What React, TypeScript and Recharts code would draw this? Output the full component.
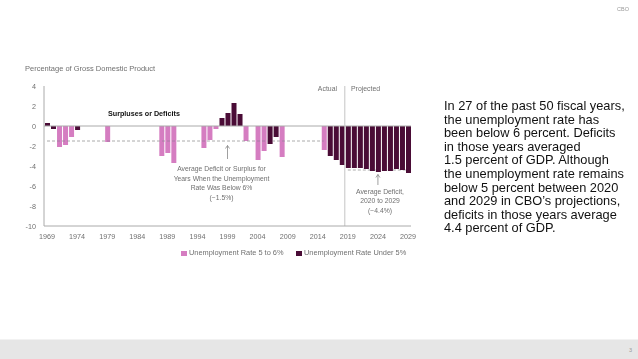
import React from "react";
import {
  ComposedChart,
  Bar,
  Line,
  XAxis,
  YAxis,
  ReferenceLine,
} from "recharts";

const years = [
  1969, 1970, 1971, 1972, 1973, 1974, 1975, 1976, 1977, 1978,
  1979, 1980, 1981, 1982, 1983, 1984, 1985, 1986, 1987, 1988,
  1989, 1990, 1991, 1992, 1993, 1994, 1995, 1996, 1997, 1998,
  1999, 2000, 2001, 2002, 2003, 2004, 2005, 2006, 2007, 2008,
  2009, 2010, 2011, 2012, 2013, 2014, 2015, 2016, 2017, 2018,
  2019, 2020, 2021, 2022, 2023, 2024, 2025, 2026, 2027, 2028,
  2029,
];

// Unemployment rate 5 to 6% (pink)
const rate5to6 = [
  null, null, -2.1, -1.9, -1.1, null, null, null, null, null,
  -1.6, null, null, null, null, null, null, null, null, -3.0,
  -2.7, -3.7, null, null, null, null, -2.2, -1.4, -0.3, null,
  null, null, null, -1.5, null, -3.4, -2.5, null, null, -3.1,
  null, null, null, null, null, null, -2.4, null, null, null,
  null, null, null, null, null, null, null, null, null, null,
  null,
];

// Unemployment rate under 5% (dark)
const rateUnder5 = [
  0.3, -0.3, null, null, null, -0.4, null, null, null, null,
  null, null, null, null, null, null, null, null, null, null,
  null, null, null, null, null, null, null, null, null, 0.8,
  1.3, 2.3, 1.2, null, null, null, null, -1.8, -1.1, null,
  null, null, null, null, null, null, null, -3.0, -3.4, -3.9,
  -4.2, -4.2, -4.2, -4.3, -4.5, -4.6, -4.5, -4.5, -4.3, -4.4,
  -4.7,
];

const xTicks = [1969, 1974, 1979, 1984, 1989, 1994, 1999, 2004, 2009, 2014, 2019, 2024, 2029];
const yTicks = [-10, -8, -6, -4, -2, 0, 2, 4];

// averages and the year spans they cover
const pastAverage = -1.5;
const pastAverageSpan = [1969, 2015];
const projectedAverage = -4.4;
const projectedAverageSpan = [2019, 2029];

const data = years.map((y, i) => ({
  year: y,
  pink: rate5to6[i],
  dark: rateUnder5[i],
  avgPast: y >= pastAverageSpan[0] && y <= pastAverageSpan[1] ? pastAverage : null,
  avgProj: y >= projectedAverageSpan[0] && y <= projectedAverageSpan[1] ? projectedAverage : null,
}));

const PINK = "#d57dc1";
const DARK = "#4a0c36";
const SANS = "'Liberation Sans', Arial, sans-serif";
const GRAY_TEXT = "#707070";
const X_DOMAIN: [number, number] = [1968.5, 2029.5];
const Y_DOMAIN: [number, number] = [-10, 4];

const Arrow = (p: any) => {
  const { x1, y1, x2, y2 } = p;
  const tipX = x2;
  const tipY = Math.min(y1, y2);
  const baseY = Math.max(y1, y2);
  return (
    <g>
      <line x1={tipX} y1={baseY} x2={tipX} y2={tipY} stroke="#888" strokeWidth={0.8} />
      <path d={`M${tipX - 2},${tipY + 3} L${tipX},${tipY} L${tipX + 2},${tipY + 3}`} fill="none" stroke="#888" strokeWidth={0.8} />
    </g>
  );
};

const txt = (
  left: number,
  centerY: number,
  text: React.ReactNode,
  style: React.CSSProperties = {}
) => (
  <div
    style={{
      position: "absolute",
      left,
      top: centerY - 6,
      height: 12,
      lineHeight: "12px",
      whiteSpace: "nowrap",
      fontFamily: SANS,
      ...style,
    }}
  >
    {text}
  </div>
);

const centered = (cx: number, centerY: number, text: string, size = 6.8) => (
  <div
    style={{
      position: "absolute",
      left: cx - 80,
      width: 160,
      top: centerY - 6,
      height: 12,
      lineHeight: "12px",
      textAlign: "center",
      whiteSpace: "nowrap",
      fontFamily: SANS,
      fontSize: size,
      color: GRAY_TEXT,
    }}
  >
    {text}
  </div>
);

export default function App() {
  return (
    <div
      style={{
        position: "absolute",
        left: 0,
        top: 0,
        width: 638,
        height: 359,
        background: "#ffffff",
        overflow: "hidden",
      }}
    >
      <style>{`.avg-line path { mix-blend-mode: darken; }`}</style>
      <div style={{ position: "absolute", left: 0, top: 0 }}>
        <ComposedChart
          width={420}
          height={270}
          data={data}
          margin={{ top: 86, right: 9, left: 0, bottom: 24 }}
        >
          <XAxis
            dataKey="year"
            type="number"
            domain={X_DOMAIN}
            ticks={xTicks}
            interval={0}
            height={20}
            axisLine={{ stroke: "#aaaaaa" }}
            tickLine={false}
            tick={{ fontSize: 7.2, fill: GRAY_TEXT, fontFamily: SANS }}
          />
          <YAxis
            type="number"
            domain={Y_DOMAIN}
            ticks={yTicks}
            interval={0}
            width={44}
            axisLine={{ stroke: "#aaaaaa" }}
            tickLine={false}
            tick={{ fontSize: 7.2, fill: GRAY_TEXT, fontFamily: SANS }}
          />
          <Bar dataKey="pink" stackId="a" fill={PINK} barSize={5} isAnimationActive={false} />
          <Bar dataKey="dark" stackId="a" fill={DARK} barSize={5} isAnimationActive={false} />
          <Line
            className="avg-line"
            dataKey="avgPast"
            stroke="#a0a0a0"
            strokeDasharray="3 2"
            strokeWidth={0.9}
            dot={false}
            activeDot={false}
            isAnimationActive={false}
          />
          <Line
            className="avg-line"
            dataKey="avgProj"
            stroke="#a0a0a0"
            strokeDasharray="3 2"
            strokeWidth={0.9}
            dot={false}
            activeDot={false}
            isAnimationActive={false}
          />
          <ReferenceLine y={0} stroke="#aaaaaa" strokeWidth={1} />
          <ReferenceLine x={2018.5} stroke="#c4c4c4" strokeWidth={1} />
          <ReferenceLine
            segment={[
              { x: 1999, y: -3.3 },
              { x: 1999, y: -1.95 },
            ]}
            shape={Arrow}
          />
          <ReferenceLine
            segment={[
              { x: 2024, y: -5.9 },
              { x: 2024, y: -4.85 },
            ]}
            shape={Arrow}
          />
        </ComposedChart>
      </div>

      {txt(25, 69, "Percentage of Gross Domestic Product", { fontSize: 7.5, color: GRAY_TEXT })}
      {txt(108, 113.5, "Surpluses or Deficits", { fontSize: 7.2, fontWeight: 700, color: "#111" })}
      <div
        style={{
          position: "absolute",
          left: 237,
          width: 100,
          top: 83,
          height: 12,
          lineHeight: "12px",
          textAlign: "right",
          fontFamily: SANS,
          fontSize: 6.9,
          color: GRAY_TEXT,
        }}
      >
        Actual
      </div>
      {txt(351, 89, "Projected", { fontSize: 6.9, color: GRAY_TEXT })}

      {centered(221.5, 169, "Average Deficit or Surplus for")}
      {centered(221.5, 178.5, "Years When the Unemployment")}
      {centered(221.5, 188, "Rate Was Below 6%")}
      {centered(221.5, 197.5, "(\u22121.5%)")}

      {centered(380, 191.5, "Average Deficit,")}
      {centered(380, 201, "2020 to 2029")}
      {centered(380, 210.5, "(\u22124.4%)")}

      <div style={{ position: "absolute", left: 181, top: 250.5, width: 5.5, height: 5.5, background: PINK }} />
      {txt(189, 253, "Unemployment Rate 5 to 6%", { fontSize: 7.4, color: GRAY_TEXT })}
      <div style={{ position: "absolute", left: 296, top: 250.5, width: 5.5, height: 5.5, background: DARK }} />
      {txt(304, 253, "Unemployment Rate Under 5%", { fontSize: 7.4, color: GRAY_TEXT })}

      <div
        style={{
          position: "absolute",
          left: 444,
          top: 99,
          fontFamily: SANS,
          fontSize: 12.8,
          lineHeight: "13.6px",
          color: "#111",
          whiteSpace: "nowrap",
        }}
      >
        In 27 of the past 50 fiscal years,
        <br />
        the unemployment rate has
        <br />
        been below 6 percent. Deficits
        <br />
        in those years averaged
        <br />
        1.5 percent of GDP. Although
        <br />
        the unemployment rate remains
        <br />
        below 5 percent between 2020
        <br />
        and 2029 in CBO’s projections,
        <br />
        deficits in those years average
        <br />
        4.4 percent of GDP.
      </div>

      <div
        style={{
          position: "absolute",
          left: 617,
          top: 6,
          fontFamily: SANS,
          fontSize: 5.5,
          lineHeight: "7px",
          color: "#999",
        }}
      >
        CBO
      </div>

      <div style={{ position: "absolute", left: 0, top: 339, width: 638, height: 1, background: "#f2f2f2" }} />
      <div style={{ position: "absolute", left: 0, top: 340, width: 638, height: 19, background: "#e6e6e6" }} />
      <div
        style={{
          position: "absolute",
          left: 629,
          top: 347,
          fontFamily: SANS,
          fontSize: 5.5,
          lineHeight: "7px",
          color: "#999",
        }}
      >
        3
      </div>
    </div>
  );
}
